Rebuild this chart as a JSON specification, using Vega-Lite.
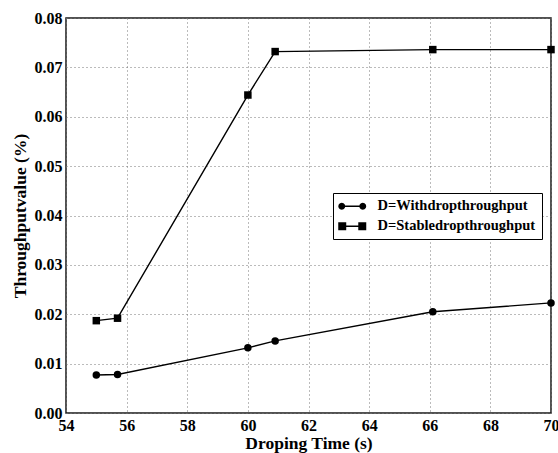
{
  "$schema": "https://vega.github.io/schema/vega-lite/v6.json",
  "width": 485,
  "height": 395,
  "autosize": "none",
  "padding": {"left": 66, "top": 18, "right": 7, "bottom": 40},
  "background": "white",
  "config": {
    "view": {"stroke": "#1a1a1a", "strokeWidth": 1.5},
    "font": "Liberation Serif",
    "axis": {
      "labelFont": "Liberation Serif",
      "labelFontWeight": "bold",
      "labelFontSize": 16,
      "labelColor": "black",
      "titleFont": "Liberation Serif",
      "titleFontWeight": "bold",
      "titleFontSize": 17.5,
      "titleColor": "black",
      "domain": false,
      "ticks": false,
      "gridColor": "#777777",
      "gridDash": [1, 3],
      "gridWidth": 1,
      "labelPadding": 4
    }
  },
  "data": {
    "values": [
      {"s": "D=Withdropthroughput", "t": 55, "v": 0.0077},
      {"s": "D=Withdropthroughput", "t": 55.7, "v": 0.0078},
      {"s": "D=Withdropthroughput", "t": 60, "v": 0.0132},
      {"s": "D=Withdropthroughput", "t": 60.9, "v": 0.0146},
      {"s": "D=Withdropthroughput", "t": 66.1, "v": 0.0205},
      {"s": "D=Withdropthroughput", "t": 70, "v": 0.0223},
      {"s": "D=Stabledropthroughput", "t": 55, "v": 0.0187},
      {"s": "D=Stabledropthroughput", "t": 55.7, "v": 0.0192},
      {"s": "D=Stabledropthroughput", "t": 60, "v": 0.0644},
      {"s": "D=Stabledropthroughput", "t": 60.9, "v": 0.0732},
      {"s": "D=Stabledropthroughput", "t": 66.1, "v": 0.0736},
      {"s": "D=Stabledropthroughput", "t": 70, "v": 0.0736}
    ]
  },
  "resolve": {"scale": {"shape": "independent"}, "legend": {"shape": "independent"}},
  "layer": [
    {
      "mark": {"type": "line", "color": "black", "strokeWidth": 1.4},
      "encoding": {
        "x": {
          "field": "t", "type": "quantitative",
          "scale": {"domain": [54, 70], "nice": false, "zero": false},
          "axis": {"values": [54, 56, 58, 60, 62, 64, 66, 68, 70], "title": "Droping Time (s)", "grid": true, "titlePadding": 1, "labelFlush": false}
        },
        "y": {
          "field": "v", "type": "quantitative",
          "scale": {"domain": [0, 0.08], "nice": false},
          "axis": {"values": [0, 0.01, 0.02, 0.03, 0.04, 0.05, 0.06, 0.07, 0.08], "format": ".2f", "title": "Throughputvalue (%)", "grid": true, "titlePadding": 5, "labelFlush": false}
        },
        "detail": {"field": "s"}
      }
    },
    {
      "mark": {"type": "point", "filled": true, "color": "black", "opacity": 1, "size": 56},
      "encoding": {
        "x": {"field": "t", "type": "quantitative"},
        "y": {"field": "v", "type": "quantitative"},
        "shape": {
          "field": "s", "type": "nominal",
          "scale": {"domain": ["D=Withdropthroughput", "D=Stabledropthroughput"], "range": ["circle", "square"]},
          "legend": null
        }
      }
    },
    {
      "mark": {"type": "point", "filled": true, "color": "black", "opacity": 1, "size": 0},
      "encoding": {
        "x": {"field": "t", "type": "quantitative"},
        "y": {"field": "v", "type": "quantitative"},
        "shape": {
          "field": "s", "type": "nominal",
          "scale": {
            "domain": ["D=Withdropthroughput", "D=Stabledropthroughput"],
            "range": [
              "M-1,0L-1.067,0.25L-1.25,0.433L-1.5,0.5L-1.75,0.433L-1.933,0.25L-2,0L-1.933,-0.25L-1.75,-0.433L-1.5,-0.5L-1.25,-0.433L-1.067,-0.25ZM2,0L1.933,0.25L1.75,0.433L1.5,0.5L1.25,0.433L1.067,0.25L1,0L1.067,-0.25L1.25,-0.433L1.5,-0.5L1.75,-0.433L1.933,-0.25ZM-1.5,-0.1L1.5,-0.1L1.5,0.1L-1.5,0.1Z",
              "M-2,-0.57L-0.86,-0.57L-0.86,0.57L-2,0.57ZM0.86,-0.57L2,-0.57L2,0.57L0.86,0.57ZM-1.5,-0.1L1.5,-0.1L1.5,0.1L-1.5,0.1Z"
            ]
          },
          "legend": {
            "title": null,
            "orient": "none",
            "legendX": 267,
            "legendY": 175,
            "strokeColor": "black",
            "fillColor": "white",
            "padding": 6,
            "cornerRadius": 0,
            "rowPadding": 5,
            "symbolOffset": 6,
            "labelFont": "Liberation Serif",
            "labelFontWeight": "bold",
            "labelFontSize": 14.5,
            "labelColor": "black",
            "labelOffset": 18,
            "symbolSize": 196,
            "symbolFillColor": "black",
            "symbolStrokeWidth": 0
          }
        }
      }
    }
  ]
}
